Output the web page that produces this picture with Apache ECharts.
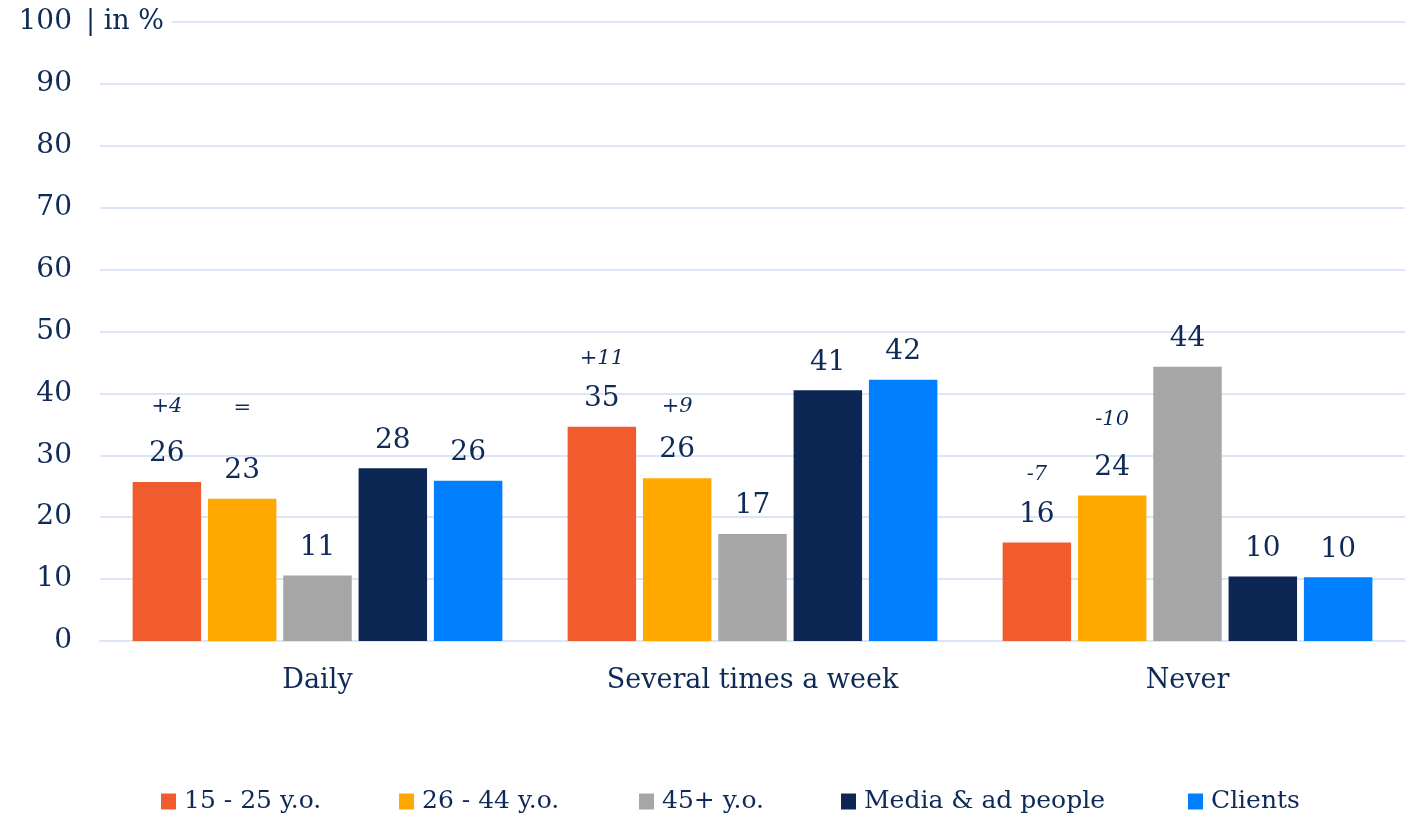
<!DOCTYPE html>
<html>
<head>
<meta charset="utf-8">
<script src="https://cdn.jsdelivr.net/npm/echarts@6/dist/echarts.min.js"></script>
<style>
  html, body { margin: 0; padding: 0; background: #ffffff; }
  #chart { width: 1415px; height: 817px; }
</style>
</head>
<body>
<div id="chart"></div>
<script>
// Frequency categories
const categories = ['Daily', 'Several times a week', 'Never'];

// Series names
const seriesNames = ['15 - 25 y.o.', '26 - 44 y.o.', '45+ y.o.', 'Media & ad people', 'Clients'];

// Shares in %
const age1525 = [25.7, 34.6, 15.9];
const age2644 = [23.0, 26.3, 23.5];
const age45plus = [10.6, 17.3, 44.3];
const mediaAd = [27.9, 40.5, 10.4];
const clients = [25.9, 42.2, 10.3];

// Change versus previous wave, shown above the value
const delta1525 = ['+4', '+11', '-7'];
const delta2644 = ['=', '+9', '-10'];

// Y axis ticks
const yTicks = [0, 10, 20, 30, 40, 50, 60, 70, 80, 90, 100];

// Layout: vertical distance (px) between a change note and its value label
const deltaSpacing = [[47, 40, 40], [62, 44, 48]];

const colors = ['#F05C2E', '#FFA800', '#A6A6A6', '#0D2755', '#0080FF'];
const textColor = '#0E2A56';
const font = '"DejaVu Serif", "Liberation Serif", serif';

const values = [age1525, age2644, age45plus, mediaAd, clients];
const deltas = [delta1525, delta2644, null, null, null];

const VALUE_LH = 30;

const series = values.map((vals, i) => ({
  name: seriesNames[i],
  type: 'bar',
  data: vals.map((v, j) => {
    const item = { value: v };
    if (deltas[i]) {
      // each note sits on its own line whose height sets the spacing
      const dLH = 2 * deltaSpacing[i][j] - VALUE_LH;
      item.label = {
        rich: {
          d: { fontSize: 21, lineHeight: dLH, fontStyle: 'italic', color: textColor, fontFamily: font },
          v: { fontSize: 28, lineHeight: VALUE_LH, color: textColor, fontFamily: font }
        }
      };
    }
    return item;
  }),
  barGap: '10%',
  barCategoryGap: '15%',
  itemStyle: { color: colors[i] },
  label: {
    show: true,
    position: 'top',
    distance: 13,
    color: textColor,
    fontFamily: font,
    formatter: p => {
      const v = Math.round(p.value);
      const d = deltas[i] ? deltas[i][p.dataIndex] : null;
      return d ? `{d|${d}}\n{v|${v}}` : `{v|${v}}`;
    },
    rich: {
      v: { fontSize: 28, lineHeight: VALUE_LH, color: textColor, fontFamily: font },
      d: { fontSize: 21, lineHeight: 56, fontStyle: 'italic', color: textColor, fontFamily: font }
    }
  }
}));

// One legend per entry so the spacing follows the original layout
const legendLeft = [156, 394, 634, 836, 1183];
const legends = seriesNames.map((n, i) => ({
  data: [n],
  left: legendLeft[i],
  top: 784,
  itemWidth: 15,
  itemHeight: 16,
  itemGap: 0,
  icon: 'rect',
  textStyle: { color: textColor, fontFamily: font, fontSize: 25, padding: [0, 0, 0, 3] }
}));

const chart = echarts.init(document.getElementById('chart'));
chart.setOption({
  backgroundColor: '#ffffff',
  animation: false,
  grid: { left: 100, right: 10, top: 22, bottom: 176, containLabel: false },
  legend: legends,
  xAxis: {
    type: 'category',
    data: categories,
    axisLine: { show: true, lineStyle: { color: '#DCE6F6', width: 2 } },
    axisTick: { show: false },
    axisLabel: { color: textColor, fontFamily: font, fontSize: 27, margin: 26 }
  },
  yAxis: {
    type: 'value',
    min: yTicks[0],
    max: yTicks[yTicks.length - 1],
    interval: yTicks[1] - yTicks[0],
    axisLine: { show: false },
    axisTick: { show: false },
    splitLine: { lineStyle: { color: '#DCE6F6', width: 2 } },
    axisLabel: { color: textColor, fontFamily: font, fontSize: 28, margin: 28 }
  },
  graphic: [{
    type: 'text',
    left: 80,
    top: 8,
    z: 100,
    style: {
      text: '| in %',
      fill: textColor,
      font: '27px ' + font,
      backgroundColor: '#ffffff',
      padding: [0, 8, 0, 6]
    }
  }],
  series
});
</script>
</body>
</html>
